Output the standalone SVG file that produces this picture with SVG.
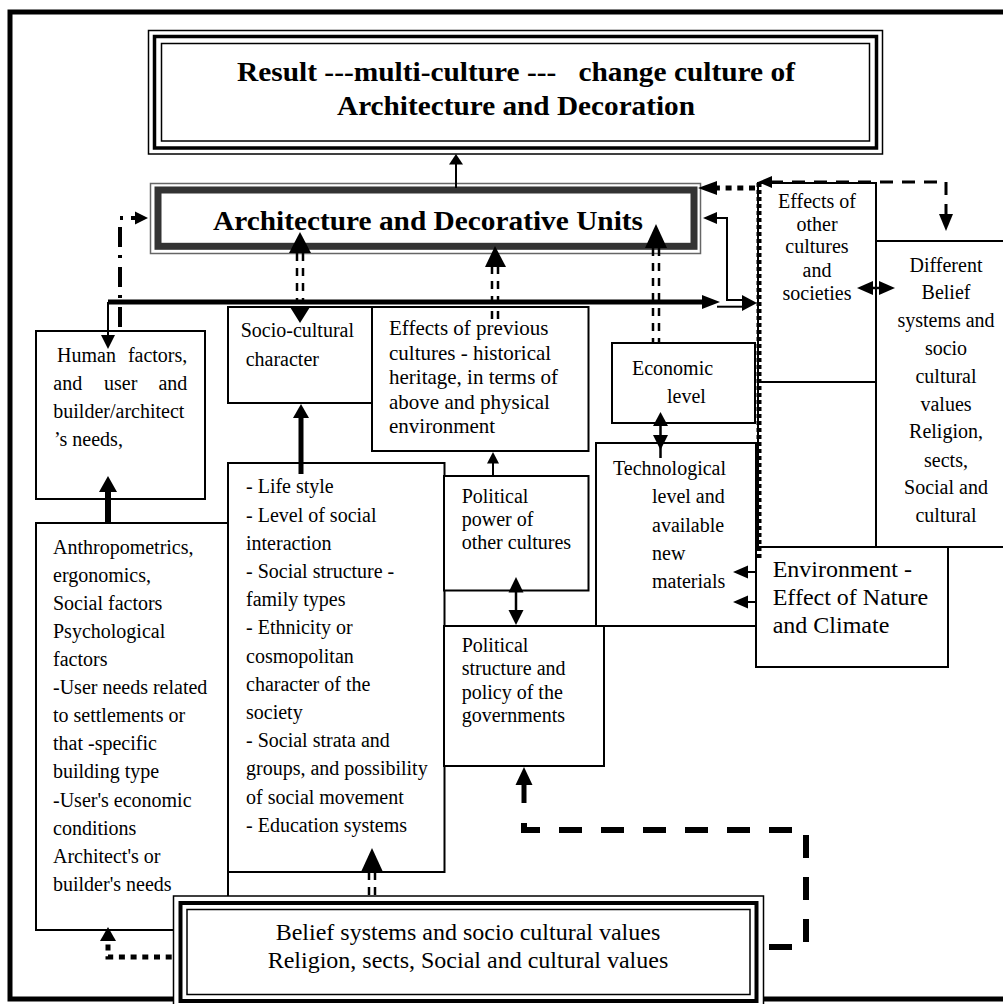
<svg xmlns="http://www.w3.org/2000/svg" width="1003" height="1004" viewBox="0 0 1003 1004">
<style>
.bx{fill:#fff;stroke:#000;stroke-width:2}
.t{font-family:"Liberation Serif","Times New Roman",serif;font-size:20px;fill:#000}
.t21{font-size:21px}
.t24{font-size:24px}
.tb{font-family:"Liberation Serif","Times New Roman",serif;font-size:28px;font-weight:bold;fill:#000;white-space:pre}
.c{text-anchor:middle}
.e{text-anchor:end}
.ah{fill:#000;stroke:none}
.ln{fill:none;stroke:#000;stroke-width:2}
.dd{fill:none;stroke:#000;stroke-width:2.5;stroke-dasharray:8 7}
.dot{fill:none;stroke:#000;stroke-width:5;stroke-dasharray:4 3}
.dot2{fill:none;stroke:#000;stroke-width:5;stroke-dasharray:6 5.7}
.dsh{fill:none;stroke:#000;stroke-width:6;stroke-dasharray:23 19}
</style>
<rect x="0" y="0" width="1003" height="1004" fill="#fff"/>
<rect x="10" y="12" width="1000" height="987" fill="none" stroke="#000" stroke-width="5"/>

<g id="result">
  <rect x="148.5" y="30.5" width="734" height="123.5" fill="#fff" stroke="#000" stroke-width="1.5"/>
  <rect x="154.5" y="36.5" width="722" height="111.5" fill="none" stroke="#000" stroke-width="3.5"/>
  <rect x="161.5" y="43.5" width="708" height="97.5" fill="none" stroke="#000" stroke-width="1.5"/>
  <text class="tb" x="237" y="81" textLength="558" lengthAdjust="spacingAndGlyphs" xml:space="preserve">Result ---multi-culture ---   change culture of</text>
  <text class="tb" x="337" y="115" textLength="358" lengthAdjust="spacingAndGlyphs">Architecture and Decoration</text>
</g>

<g id="arch-units">
  <rect x="150.5" y="183.5" width="550" height="70" fill="#fff" stroke="#666" stroke-width="1.5"/>
  <rect x="158" y="190" width="536" height="56.3" fill="none" stroke="#333" stroke-width="7"/>
  <text class="tb" x="213" y="230" textLength="430" lengthAdjust="spacingAndGlyphs">Architecture and Decorative Units</text>
</g>

<g id="anthropometrics">
  <rect class="bx" x="36" y="523" width="192" height="407"/>
  <text class="t" x="53" y="553.6">Anthropometrics,</text>
  <text class="t" x="53" y="581.7">ergonomics,</text>
  <text class="t" x="53" y="609.8">Social factors</text>
  <text class="t" x="53" y="637.9">Psychological</text>
  <text class="t" x="53" y="666">factors</text>
  <text class="t" x="53" y="694.1">-User needs related</text>
  <text class="t" x="53" y="722.2">to settlements or</text>
  <text class="t" x="53" y="750.3">that -specific</text>
  <text class="t" x="53" y="778.4">building type</text>
  <text class="t" x="53" y="806.5">-User's economic</text>
  <text class="t" x="53" y="834.6">conditions</text>
  <text class="t" x="53" y="862.7">Architect's or</text>
  <text class="t" x="53" y="890.8">builder's needs</text>
</g>

<g id="human-factors">
  <rect class="bx" x="36" y="331" width="169" height="168"/>
  <text class="t" x="57" y="361.7">Human</text>
  <text class="t e" x="187.3" y="361.7">factors,</text>
  <text class="t" x="53.3" y="390">and</text>
  <text class="t" x="104" y="390">user</text>
  <text class="t e" x="187.3" y="390">and</text>
  <text class="t" x="53.3" y="418.3">builder/architect</text>
  <text class="t" x="54" y="446">’s needs,</text>
</g>

<g id="socio-cultural">
  <rect class="bx" x="228" y="307" width="144" height="96"/>
  <text class="t" x="240.7" y="337">Socio-cultural</text>
  <text class="t" x="245.7" y="366">character</text>
</g>

<g id="lifestyle">
  <rect class="bx" x="228" y="463" width="216.5" height="409"/>
  <text class="t" x="246" y="493.3">- Life style</text>
  <text class="t" x="246" y="521.5">- Level of social</text>
  <text class="t" x="246" y="549.7">interaction</text>
  <text class="t" x="246" y="577.9">- Social structure -</text>
  <text class="t" x="246" y="606.1">family types</text>
  <text class="t" x="246" y="634.3">- Ethnicity or</text>
  <text class="t" x="246" y="662.5">cosmopolitan</text>
  <text class="t" x="246" y="690.7">character of the</text>
  <text class="t" x="246" y="718.9">society</text>
  <text class="t" x="246" y="747.1">- Social strata and</text>
  <text class="t" x="246" y="775.3">groups, and possibility</text>
  <text class="t" x="246" y="803.5">of social movement</text>
  <text class="t" x="246" y="831.7">- Education systems</text>
</g>

<g id="previous-cultures">
  <rect class="bx" x="372" y="307" width="216.5" height="144"/>
  <text class="t t21" x="389" y="335">Effects of previous</text>
  <text class="t t21" x="389" y="359.5">cultures - historical</text>
  <text class="t t21" x="389" y="384">heritage, in terms of</text>
  <text class="t t21" x="389" y="408.5">above and physical</text>
  <text class="t t21" x="389" y="433">environment</text>
</g>

<g id="political-power">
  <rect class="bx" x="444" y="476" width="144.5" height="114.5"/>
  <text class="t" x="461.7" y="503">Political</text>
  <text class="t" x="461.7" y="526">power of</text>
  <text class="t" x="461.7" y="549">other cultures</text>
</g>

<g id="political-structure">
  <rect class="bx" x="444" y="626" width="160" height="140"/>
  <text class="t" x="461.7" y="652">Political</text>
  <text class="t" x="461.7" y="675">structure and</text>
  <text class="t" x="461.7" y="698.5">policy of the</text>
  <text class="t" x="461.7" y="722">governments</text>
</g>

<g id="economic">
  <rect class="bx" x="612" y="343" width="143" height="80"/>
  <text class="t" x="632" y="375">Economic</text>
  <text class="t" x="667" y="403">level</text>
</g>

<g id="technological">
  <rect class="bx" x="596" y="443" width="160" height="183"/>
  <text class="t" x="613" y="475">Technological</text>
  <text class="t" x="652" y="503.3">level and</text>
  <text class="t" x="652" y="531.7">available</text>
  <text class="t" x="652" y="560">new</text>
  <text class="t" x="652" y="588.3">materials</text>
</g>

<g id="other-cultures">
  <rect class="bx" x="758" y="183" width="118" height="199"/>
  <rect class="bx" x="758" y="382" width="118" height="165"/>
  <text class="t c" x="817" y="208.3">Effects of</text>
  <text class="t c" x="817" y="230.5">other</text>
  <text class="t c" x="817" y="253">cultures</text>
  <text class="t c" x="817" y="276.7">and</text>
  <text class="t c" x="817" y="300">societies</text>
</g>

<g id="different-belief">
  <rect class="bx" x="876" y="241" width="140" height="306"/>
  <text class="t c" x="946" y="271.7">Different</text>
  <text class="t c" x="946" y="299.3">Belief</text>
  <text class="t c" x="946" y="326.7">systems and</text>
  <text class="t c" x="946" y="355">socio</text>
  <text class="t c" x="946" y="383.3">cultural</text>
  <text class="t c" x="946" y="410.7">values</text>
  <text class="t c" x="946" y="438.3">Religion,</text>
  <text class="t c" x="946" y="466.7">sects,</text>
  <text class="t c" x="946" y="494">Social and</text>
  <text class="t c" x="946" y="521.7">cultural</text>
</g>

<g id="environment">
  <rect class="bx" x="756" y="547" width="192" height="120"/>
  <text class="t t24" x="772.7" y="576.7">Environment -</text>
  <text class="t t24" x="772.7" y="605">Effect of Nature</text>
  <text class="t t24" x="772.7" y="633.3">and Climate</text>
</g>

<g id="belief-systems">
  <rect x="173.5" y="896" width="590" height="112" fill="#fff" stroke="#000" stroke-width="1.5"/>
  <rect x="180.5" y="903" width="576" height="98" fill="none" stroke="#000" stroke-width="4"/>
  <rect x="187" y="909.5" width="563" height="85" fill="none" stroke="#000" stroke-width="1.5"/>
  <text class="t t24 c" x="468" y="940">Belief systems and socio cultural values</text>
  <text class="t t24 c" x="468" y="968">Religion, sects, Social and cultural values</text>
</g>

<g id="connectors">
  <!-- Arch -> Result -->
  <line class="ln" x1="456" y1="188" x2="456" y2="162"/>
  <polygon class="ah" points="456,154 449,164.5 463,164.5"/>

  <!-- Socio-cultural <-> Arch (double dashed) -->
  <line class="dd" x1="297" y1="253" x2="297" y2="302"/>
  <line class="dd" x1="303" y1="253" x2="303" y2="302"/>
  <polygon class="ah" points="300,232 289,253 311,253"/>
  <polygon class="ah" points="300,323 290,307 310,307"/>

  <!-- Previous cultures -> Arch -->
  <line class="dd" x1="492" y1="266" x2="492" y2="325"/>
  <line class="dd" x1="498" y1="266" x2="498" y2="325"/>
  <polygon class="ah" points="495,246 485,267 506,267"/>

  <!-- Economic -> Arch -->
  <line class="dd" x1="653" y1="248" x2="653" y2="343"/>
  <line class="dd" x1="659" y1="248" x2="659" y2="343"/>
  <polygon class="ah" points="656,224 645,248 667,248"/>

  <!-- thick horizontal bus -->
  <line x1="108" y1="302" x2="704" y2="302" stroke="#000" stroke-width="5"/>
  <polygon class="ah" points="720,302 702,295 702,309"/>
  <line class="ln" x1="108" y1="302" x2="108" y2="336"/>
  <polygon class="ah" points="108,349 101,335 115,335"/>
  <line class="ln" x1="717" y1="306.7" x2="743" y2="306.7"/>

  <!-- thin feedback from Other cultures to Arch -->
  <polyline class="ln" points="716,218 727,218 727,300 743,300"/>
  <polygon class="ah" points="703,218 717,212 717,224"/>
  <polygon class="ah" points="757,303 742,295 742,311"/>

  <!-- dash-dot Human factors -> Arch -->
  <path d="M120,331 V218 H135" fill="none" stroke="#000" stroke-width="4" stroke-dasharray="20 9 3 8" stroke-dashoffset="36"/>
  <polygon class="ah" points="148,218 135,211.5 135,224.5"/>

  <!-- Anthropometrics -> Human factors -->
  <line x1="108" y1="490" x2="108" y2="523" stroke="#000" stroke-width="6"/>
  <polygon class="ah" points="108,476 99,492 117,492"/>

  <!-- Lifestyle -> Socio-cultural -->
  <line x1="301" y1="416" x2="301" y2="474" stroke="#000" stroke-width="5"/>
  <polygon class="ah" points="301,404 293,418 309,418"/>

  <!-- Political power -> Previous cultures -->
  <line class="ln" x1="493" y1="462" x2="493" y2="476"/>
  <polygon class="ah" points="493,452 487,463.5 499,463.5"/>

  <!-- Political power <-> Political structure -->
  <line x1="516" y1="590" x2="516" y2="612" stroke="#000" stroke-width="2.5"/>
  <polygon class="ah" points="516,577 508.5,592.5 523.5,592.5"/>
  <polygon class="ah" points="516,625 508.5,610 523.5,610"/>

  <!-- Economic <-> Technological -->
  <line x1="660.5" y1="424" x2="660.5" y2="458" stroke="#000" stroke-width="2.5"/>
  <polygon class="ah" points="660.5,412 653,426 668,426"/>
  <polygon class="ah" points="660.5,450 653,435 668,435"/>

  <!-- dotted: Other cultures -> Arch, and dotted boundary -->
  <line class="dot2" x1="755" y1="188" x2="716" y2="188"/>
  <polygon class="ah" points="698,188 717,181 717,195"/>
  <line class="dot" x1="759" y1="183" x2="759" y2="560"/>

  <!-- dashed: Other cultures <-> Different belief -->
  <path d="M770,182 H946 V216" fill="none" stroke="#000" stroke-width="3" stroke-dasharray="13 9"/>
  <polygon class="ah" points="758,182 772,176 772,188"/>
  <polygon class="ah" points="946,231 939,214 953,214"/>

  <!-- Other cultures <-> Different belief -->
  <line x1="866" y1="288" x2="886" y2="288" stroke="#000" stroke-width="2.5"/>
  <polygon class="ah" points="857,288 873,281 873,295"/>
  <polygon class="ah" points="895,288 879,281 879,295"/>

  <!-- Environment -> Technological -->
  <line class="ln" x1="746" y1="572" x2="756" y2="572"/>
  <polygon class="ah" points="733,572 748,565.5 748,578.5"/>
  <line class="ln" x1="746" y1="602" x2="756" y2="602"/>
  <polygon class="ah" points="733,602 748,595.5 748,608.5"/>

  <!-- Belief systems -> Lifestyle -->
  <line class="dd" x1="369" y1="872" x2="369" y2="905"/>
  <line class="dd" x1="375" y1="872" x2="375" y2="905"/>
  <polygon class="ah" points="372,848 361,872 383,872"/>

  <!-- Belief systems -> Anthropometrics (dotted) -->
  <path class="dot2" d="M171.7,957 H108 V941"/>
  <polygon class="ah" points="108,927 100,941 116,941"/>

  <!-- Belief systems -> Political structure (thick dashed) -->
  <line x1="524" y1="784" x2="524" y2="803" stroke="#000" stroke-width="5"/>
  <polygon class="ah" points="524,767 515.5,785 532.5,785"/>
  <path class="dsh" d="M524,823 V830 H806 V947 H765"/>
</g>
</svg>
